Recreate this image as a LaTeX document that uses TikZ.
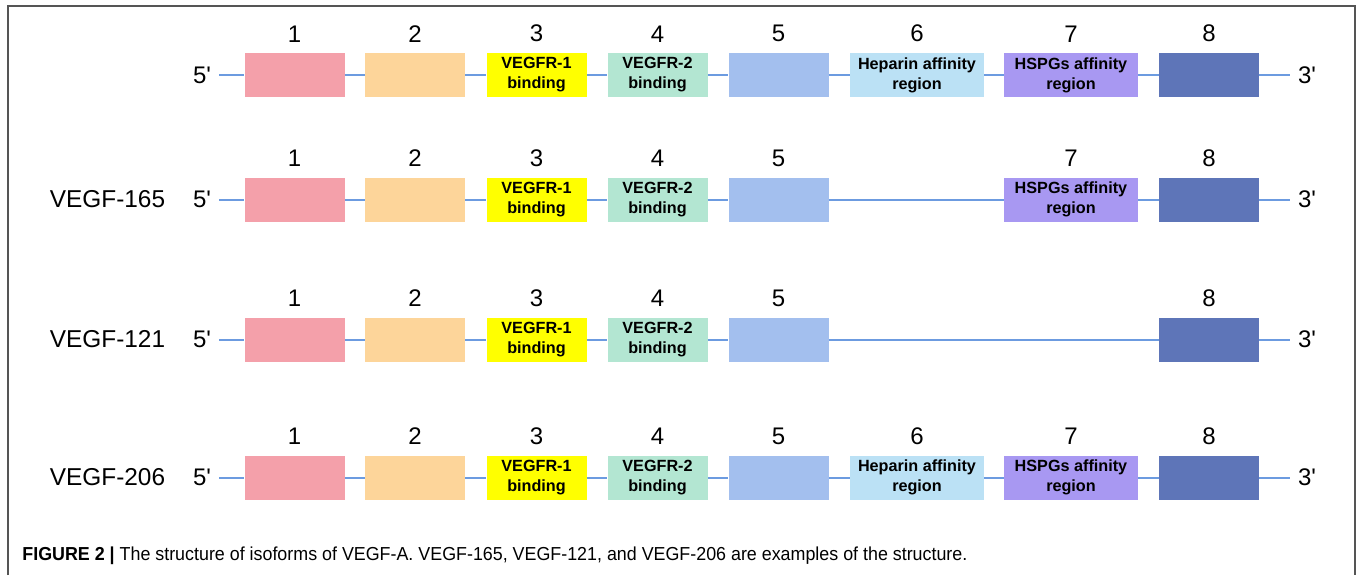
\documentclass[tikz,border=0pt]{standalone}
\usepackage{fontspec}
\setmainfont{Liberation Sans}
\newfontfamily\capfont[FakeStretch=0.95]{Liberation Sans}
\newfontfamily\endfont[Ligatures=TeXOff]{Liberation Sans}
\usetikzlibrary{positioning}
\definecolor{exonA}{HTML}{F4A0AA}
\definecolor{exonB}{HTML}{FDD59A}
\definecolor{exonC}{HTML}{FFFF00}
\definecolor{exonD}{HTML}{B3E6D2}
\definecolor{exonE}{HTML}{A3BFEE}
\definecolor{exonF}{HTML}{BBE1F5}
\definecolor{exonG}{HTML}{A898F2}
\definecolor{exonH}{HTML}{5E75B8}
\definecolor{intronblue}{HTML}{6C9BE0}
\definecolor{framegray}{HTML}{555555}

\begin{document}
\begin{tikzpicture}[x=0.5pt, y=-0.5pt, label distance=5pt]
        % Styles
        \tikzset{
          exon/.style={rectangle, minimum width=50pt, minimum height=22pt, inner sep=0pt, align=center, font=\bfseries\fontsize{8.1}{10}\selectfont},
          wide/.style={exon, minimum width=67pt},
          num/.style={inner sep=0pt, font=\fontsize{12}{14}\selectfont},
          endlabel/.style={font=\endfont\fontsize{12}{14}\selectfont, inner sep=4pt},
          isoform/.style={font=\fontsize{12.2}{14}\selectfont},
          intron/.style={draw=intronblue, line width=1pt}
        }
        \useasboundingbox (0,0) rectangle (1357,575);
        \draw[framegray, line width=1pt] (8,575) -- (8,6) -- (1355,6) -- (1355,575);

        % Exons 1-5 and 8, present in every isoform
        \foreach \r/\y in {a/75, b/199.5, c/339.5, d/477.5} {
          \node [endlabel] (\r5p) at (202,\y) {5'};
          \node [exon, fill=exonA, label={[num]above:1}] (\r1) at (294.5,\y) {};
          \node [exon, fill=exonB, label={[num]above:2}] (\r2) at (415,\y) {};
          \node [exon, fill=exonC, label={[num]above:3}] (\r3) at (536.5,\y) {VEGFR-1\\binding};
          \node [exon, fill=exonD, label={[num]above:4}] (\r4) at (657.5,\y) {VEGFR-2\\binding};
          \node [exon, fill=exonE, label={[num]above:5}] (\r5) at (778.5,\y) {};
          \node [exon, fill=exonH, label={[num]above:8}] (\r8) at (1209,\y) {};
          \node [endlabel] (\r3p) at (1307,\y) {3'};
          \path [intron] (\r5p) -- (\r1) -- (\r2) -- (\r3) -- (\r4) -- (\r5);
          \path [intron] (\r8) -- (\r3p);
        }

        % Exons 6 and 7
        \node [wide, fill=exonF, label={[num]above:6}] (a6) at (917,75) {Heparin affinity\\region};
        \node [wide, fill=exonG, label={[num]above:7}] (a7) at (1071,75) {HSPGs affinity\\region};
        \node [wide, fill=exonG, label={[num]above:7}] (b7) at (1071,199.5) {HSPGs affinity\\region};
        \node [wide, fill=exonF, label={[num]above:6}] (d6) at (917,477.5) {Heparin affinity\\region};
        \node [wide, fill=exonG, label={[num]above:7}] (d7) at (1071,477.5) {HSPGs affinity\\region};

        % Splicing
        \path [intron] (a5) -- (a6) -- (a7) -- (a8);
        \path [intron] (b5) -- (b7) -- (b8);
        \path [intron] (c5) -- (c8);
        \path [intron] (d5) -- (d6) -- (d7) -- (d8);

        % Isoform names
        \node [isoform] (n165) at (107.5,199.5) {VEGF-165};
        \node [isoform] (n121) at (107.5,339.5) {VEGF-121};
        \node [isoform] (n206) at (107.5,477.5) {VEGF-206};

        \node [anchor=base west, inner sep=0pt, font=\capfont\fontsize{9.4}{11}\selectfont] (caption) at (22,560)
          {\textbf{FIGURE 2 |} The structure of isoforms of VEGF-A. VEGF-165, VEGF-121, and VEGF-206 are examples of the structure.};
    \end{tikzpicture}
\end{document}
